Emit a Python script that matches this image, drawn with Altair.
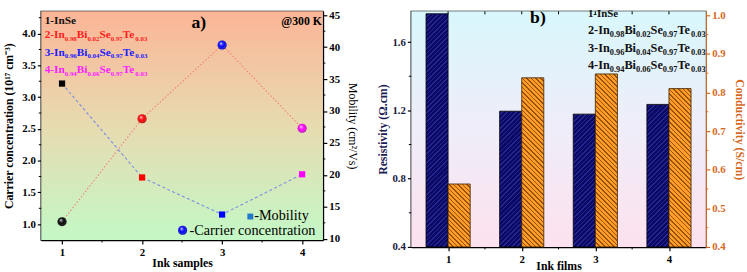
import altair as alt
import pandas as pd

# ---------------- data ----------------
samples = [1, 2, 3, 4]
carrier = [1.04, 2.66, 3.82, 2.51]            # 10^17 cm^-3
mobility = [34.3, 19.6, 13.8, 20.1]           # cm^2/Vs
sample_colors = ["#000000", "#ff0000", "#0000ff", "#ff00ff"]
label_colors = ["#111111", "#ff2020", "#2020ff", "#ff20ff"]

resistivity = [1.766, 1.195, 1.178, 1.235]    # Ohm.cm
conductivity = [0.563, 0.838, 0.848, 0.810]   # S/cm

compounds = [
    [("1-InSe", False)],
    [("2-In", False), ("0.98", True), ("Bi", False), ("0.02", True),
     ("Se", False), ("0.97", True), ("Te", False), ("0.03", True)],
    [("3-In", False), ("0.96", True), ("Bi", False), ("0.04", True),
     ("Se", False), ("0.97", True), ("Te", False), ("0.03", True)],
    [("4-In", False), ("0.94", True), ("Bi", False), ("0.06", True),
     ("Se", False), ("0.97", True), ("Te", False), ("0.03", True)],
]

SERIF = "Liberation Serif"
ORANGE_AX = "#d2691e"

# Times-Bold advance widths (em) used to lay out sub-scripted formulas
ADV = {c: 0.5 for c in "0123456789"}
ADV.update({".": 0.25, "-": 0.333, "I": 0.389, "n": 0.556, "S": 0.556,
            "e": 0.444, "B": 0.667, "i": 0.278, "T": 0.667})

one = pd.DataFrame({"k": [0]})


def formula(segs, x0, y0, color, size, sub_size, drop):
    """Text layers for one formula with subscripts, left aligned at (x0, y0)."""
    out = []
    x = x0
    for txt, sub in segs:
        fs = sub_size if sub else size
        out.append(
            alt.Chart(one).mark_text(
                text=txt, font=SERIF, fontWeight="bold", fontSize=fs,
                color=color, align="left", baseline="alphabetic"
            ).encode(x=alt.value(x), y=alt.value(y0 + (drop if sub else 0)))
        )
        x += sum(ADV.get(c, 0.5) for c in txt) * fs
    return out


def label(txt, x, y, size, color="black", weight="bold", align="left"):
    return alt.Chart(one).mark_text(
        text=txt, font=SERIF, fontWeight=weight, fontSize=size, color=color,
        align=align, baseline="alphabetic"
    ).encode(x=alt.value(x), y=alt.value(y))


def axis(**kw):
    base = dict(grid=False, domainColor="black", domainWidth=1.5,
                tickColor="black", tickWidth=1.2, tickSize=4,
                labelFont=SERIF, labelFontWeight="bold", labelFontSize=11,
                labelColor="black", titleFont=SERIF, titleFontWeight="bold",
                titleFontSize=12, titleColor="black")
    base.update(kw)
    return alt.Axis(**base)


def hatch(w, h, base, line, lean, spacing=3.3, frac=0.66):
    """Striped linear gradient giving 45-degree hatching on a w x h px box."""
    s = (w + h) / (w * w + h * h)
    if lean == "back":          # lines like "\"
        x1, y1, x2, y2 = 1, 0, 1 - w * s, h * s
    else:                       # lines like "/"
        x1, y1, x2, y2 = 0, 0, w * s, h * s
    n = max(1, round((w + h) / (spacing * 1.414)))
    stops = []
    for j in range(n):
        a, b, c = j / n, (j + frac) / n, (j + 1) / n
        stops += [{"offset": a, "color": base}, {"offset": b, "color": base},
                  {"offset": b, "color": line}, {"offset": c, "color": line}]
    return {"gradient": "linear", "x1": x1, "y1": y1, "x2": x2, "y2": y2,
            "stops": stops}


SHINE = {
    "gradient": "radial", "x1": 0.36, "y1": 0.3, "r1": 0,
    "x2": 0.5, "y2": 0.5, "r2": 0.55,
    "stops": [
        {"offset": 0.0, "color": "rgba(255,255,255,0.95)"},
        {"offset": 0.28, "color": "rgba(255,255,255,0.3)"},
        {"offset": 0.55, "color": "rgba(255,255,255,0)"},
        {"offset": 1.0, "color": "rgba(0,0,0,0.55)"},
    ],
}

# ---------------- panel a: carrier concentration & mobility ----------------
WA, HA = 287, 233
dfa = pd.DataFrame({"sample": samples, "carrier": carrier,
                    "mobility": mobility, "color": sample_colors})

# every layer gets its own y scale (independent), all with the same fixed domain
XA = dict(domain=[0.74, 4.26], nice=False, zero=False)
YL = dict(domain=[0.75, 4.35], nice=False, zero=False)
YR = dict(domain=[9.8, 45.6], nice=False, zero=False)

# one shared x axis definition, repeated on every layer that uses x
XA_AXIS = axis(values=samples, format="d", title="Ink samples",
               labelPadding=3, titleY=27, titleBaseline="alphabetic")


def xa(field):
    return alt.X(field, scale=alt.Scale(**XA), axis=XA_AXIS)


bg_a = alt.Chart(one).mark_rect(
    fill={"gradient": "linear", "x1": 0, "y1": 0, "x2": 0, "y2": 1,
          "stops": [{"offset": 0, "color": "#fbb597"},
                    {"offset": 0.5, "color": "#e7dbb0"},
                    {"offset": 1, "color": "#c4f8c6"}]}
).encode(x=alt.value(0), x2=alt.value(WA), y=alt.value(0), y2=alt.value(HA))

carrier_line = alt.Chart(dfa).mark_line(
    color="#f07f7f", strokeDash=[1.5, 2], strokeWidth=1.1
).encode(
    x=xa("sample:Q"),
    y=alt.Y("carrier:Q", scale=alt.Scale(**YL),
            axis=axis(orient="left", values=[1.0, 1.5, 2.0, 2.5, 3.0, 3.5, 4.0],
                      format=".1f", labelPadding=2, titlePadding=6,
                      title="Carrier concentration (10\u00b9\u2077 cm\u207b\u00b3)")),
)
carrier_pts = alt.Chart(dfa).mark_point(filled=True, shape="circle", size=85, opacity=1).encode(
    x=xa("sample:Q"), y=alt.Y("carrier:Q", scale=alt.Scale(**YL), axis=None),
    color=alt.Color("color:N", scale=None),
)
carrier_shine = alt.Chart(dfa).mark_circle(size=85, fill=SHINE, fillOpacity=1, opacity=1).encode(
    x=xa("sample:Q"), y=alt.Y("carrier:Q", scale=alt.Scale(**YL), axis=None),
)
left_minor = alt.Chart(pd.DataFrame({"v": [1.25, 1.75, 2.25, 2.75, 3.25, 3.75, 4.25]})).mark_rule(
    color="black", strokeWidth=1
).encode(y=alt.Y("v:Q", scale=alt.Scale(**YL), axis=None), x=alt.value(0), x2=alt.value(-2.5))

mob_line = alt.Chart(dfa).mark_line(
    color="#7b8ae6", strokeDash=[3, 2.5], strokeWidth=1.1
).encode(
    x=xa("sample:Q"),
    y=alt.Y("mobility:Q", scale=alt.Scale(**YR),
            axis=axis(orient="right", values=list(range(10, 50, 5)), format="d",
                      labelPadding=2, titlePadding=6, titleFontWeight="normal",
                      titleFontSize=12, title="Mobility (cm\u00b2/Vs)")),
)
mob_pts = alt.Chart(dfa).mark_point(filled=True, shape="square", size=40, opacity=1).encode(
    x=xa("sample:Q"), y=alt.Y("mobility:Q", scale=alt.Scale(**YR), axis=None),
    color=alt.Color("color:N", scale=None),
)
right_minor = alt.Chart(pd.DataFrame({"v": [12.5, 17.5, 22.5, 27.5, 32.5, 37.5, 42.5]})).mark_rule(
    color="black", strokeWidth=1
).encode(y=alt.Y("v:Q", scale=alt.Scale(**YR), axis=None), x=alt.value(WA), x2=alt.value(WA + 2.5))

xa_minor = alt.Chart(pd.DataFrame({"v": [1.5, 2.5, 3.5]})).mark_rule(
    color="black", strokeWidth=1
).encode(x=xa("v:Q"), y=alt.value(HA), y2=alt.value(HA + 2.5))

texts_a = []
a_base = [12.5, 27.5, 45.5, 63]
for segs, col, yb in zip(compounds, label_colors, a_base):
    texts_a += formula(segs, 3.5, yb, col, 11.5, 7, 2.5)
texts_a.append(label("a)", 153, 17, 18))
texts_a.append(label("@300 K", 286, 14, 12, align="right"))

# in-plot key for the two series
key_ball = alt.Chart(one).mark_point(filled=True, shape="circle", size=85, color="#0000ff", opacity=1).encode(
    x=alt.value(144), y=alt.value(223))
key_ball_shine = alt.Chart(one).mark_circle(size=85, fill=SHINE, fillOpacity=1, opacity=1).encode(
    x=alt.value(144), y=alt.value(223))
key_sq = alt.Chart(one).mark_point(filled=True, shape="square", size=36, color="#1f78c8", opacity=1).encode(
    x=alt.value(213), y=alt.value(209))
texts_a.append(label("-Mobility", 217, 213, 14.5, weight="normal"))
texts_a.append(label("-Carrier concentration", 151, 228, 14.5, weight="normal"))

panel_a = alt.layer(
    bg_a, carrier_line, carrier_pts, carrier_shine, left_minor,
    mob_line, mob_pts, right_minor,
    xa_minor, key_ball, key_ball_shine, key_sq, *texts_a,
).resolve_scale(y="independent").properties(width=WA, height=HA)

# ---------------- panel b: resistivity & conductivity ----------------
WB, HB = 300, 240
BAR_W = 0.3
dfb = pd.DataFrame({"sample": samples, "resistivity": resistivity,
                    "conductivity": conductivity})

XB = dict(domain=[0.5, 4.5], nice=False, zero=False)
RL = dict(domain=[0.4, 1.78], nice=False, zero=False)
CR = dict(domain=[0.4, 1.01], nice=False, zero=False)

XB_AXIS = axis(values=samples, format="d", title="Ink films",
               labelPadding=3, titleY=23, titleBaseline="alphabetic")


def xb(field):
    return alt.X(field, scale=alt.Scale(**XB), axis=XB_AXIS)


def px_h(v, dom):
    return (v - dom[0]) / (dom[1] - dom[0]) * HB


bar_px_w = BAR_W * WB / (XB["domain"][1] - XB["domain"][0])

bg_b = alt.Chart(one).mark_rect(
    fill={"gradient": "linear", "x1": 0, "y1": 0, "x2": 0, "y2": 1,
          "stops": [{"offset": 0, "color": "#d8f7fc"},
                    {"offset": 0.5, "color": "#efedf9"},
                    {"offset": 1, "color": "#fde1ee"}]}
).encode(x=alt.value(0), x2=alt.value(WB), y=alt.value(0), y2=alt.value(HB))

RES_AXIS = axis(orient="left", values=[0.4, 0.8, 1.2, 1.6], format=".1f",
                labelPadding=2, titlePadding=2, labelColor="#1a1a40",
                titleColor="#1c1c55", title="Resistivity (\u03a9.cm)")
CON_AXIS = axis(orient="right", values=[0.4, 0.5, 0.6, 0.7, 0.8, 0.9, 1.0],
                format=".1f", domainColor=ORANGE_AX, tickColor=ORANGE_AX,
                labelColor=ORANGE_AX, titleColor=ORANGE_AX,
                labelPadding=2, titlePadding=8, title="Conductivity (S/cm)")

bar_layers = []
for i, s in enumerate(samples):
    r = resistivity[i]
    c = conductivity[i]
    bar_layers.append(
        alt.Chart(dfb).transform_filter(f"datum.sample == {s}").transform_calculate(
            left=f"datum.sample - {BAR_W}"
        ).mark_bar(
            fill=hatch(bar_px_w, px_h(r, RL["domain"]), "#0a0a66", "#26268e", "fwd"),
            stroke="black", strokeWidth=0.8, fillOpacity=1,
        ).encode(
            x=xb("left:Q"), x2="sample:Q",
            y=alt.Y("resistivity:Q", scale=alt.Scale(**RL),
                    axis=RES_AXIS if i == 0 else None),
            y2=alt.datum(0.4),
        )
    )
    bar_layers.append(
        alt.Chart(dfb).transform_filter(f"datum.sample == {s}").transform_calculate(
            right=f"datum.sample + {BAR_W}"
        ).mark_bar(
            fill=hatch(bar_px_w, px_h(c, CR["domain"]), "#ff9d26", "#9a5210", "back"),
            stroke="#3a2000", strokeWidth=0.8, fillOpacity=1,
        ).encode(
            x=xb("sample:Q"), x2="right:Q",
            y=alt.Y("conductivity:Q", scale=alt.Scale(**CR),
                    axis=CON_AXIS if i == 0 else None),
            y2=alt.datum(0.4),
        )
    )

res_minor = alt.Chart(pd.DataFrame({"v": [0.6, 1.0, 1.4]})).mark_rule(
    color="black", strokeWidth=1
).encode(y=alt.Y("v:Q", scale=alt.Scale(**RL), axis=None), x=alt.value(0), x2=alt.value(-2.5))
con_minor = alt.Chart(pd.DataFrame({"v": [0.45, 0.55, 0.65, 0.75, 0.85, 0.95]})).mark_rule(
    color=ORANGE_AX, strokeWidth=1
).encode(y=alt.Y("v:Q", scale=alt.Scale(**CR), axis=None), x=alt.value(WB), x2=alt.value(WB + 2.5))

xb_minor = alt.Chart(pd.DataFrame({"v": [1.5, 2.5, 3.5]})).mark_rule(
    color="black", strokeWidth=1
).encode(x=xb("v:Q"), y=alt.value(HB), y2=alt.value(HB + 2.5))
xb_top = alt.Chart(pd.DataFrame({"v": [1, 1.5, 2, 2.5, 3, 3.5, 4]})).mark_rule(
    color="black", strokeWidth=1
).encode(x=xb("v:Q"), y=alt.value(0), y2=alt.value(3))

texts_b = []
b_base = [6, 23, 41, 59]
for i, (segs, yb) in enumerate(zip(compounds, b_base)):
    texts_b += formula(segs, 180, yb, "#111111", 11 if i == 0 else 12.5, 8.5, 3)
texts_b.append(label("b)", 121, 12, 18))

panel_b = alt.layer(
    bg_b, *bar_layers, res_minor, con_minor,
    xb_minor, xb_top, *texts_b,
).resolve_scale(y="independent").properties(width=WB, height=HB)

chart = alt.hconcat(panel_a, panel_b, spacing=17).properties(
    padding={"left": 2, "top": 5, "right": 0, "bottom": 0}
).configure_view(stroke="black", strokeWidth=1.5)

chart.save("out.html", embed_options={"renderer": "svg", "actions": False})
